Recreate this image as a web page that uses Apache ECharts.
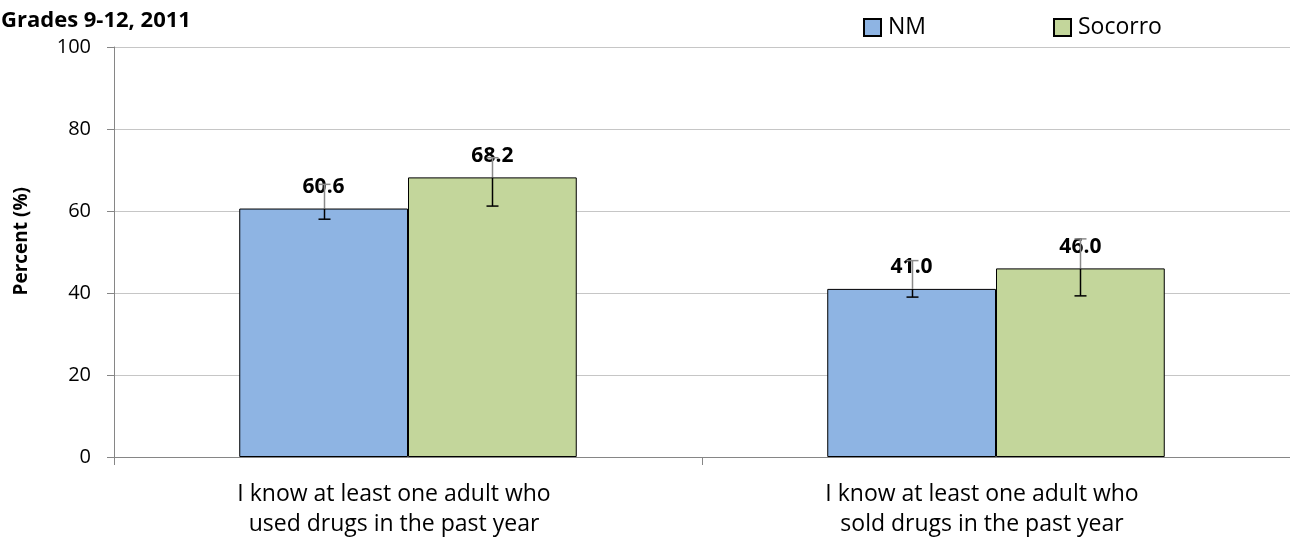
<!DOCTYPE html>
<html><head><meta charset="utf-8">
<script src="https://cdn.jsdelivr.net/npm/echarts@6/dist/echarts.min.js"></script>
<style>html,body{margin:0;padding:0;background:#fff}#c{width:1290px;height:546px}</style>
</head><body><div id="c"></div>
<script>
const categories = ["I know at least one adult who\nused drugs in the past year", "I know at least one adult who\nsold drugs in the past year"];
const seriesNames = ["NM", "Socorro"];
const nmValues = [60.6, 41.0];
const nmLow = [58.0, 39.0];
const nmHigh = [66.5, 47.9];
const socValues = [68.2, 46.0];
const socLow = [61.2, 39.3];
const socHigh = [73.0, 53.2];
const yTicks = [0, 20, 40, 60, 80, 100];
const titleText = "Grades 9-12, 2011";
const yAxisName = "Percent (%)";

const FONT = "Open Sans";
const BAR_W = 0.287;
const chart = echarts.init(document.getElementById('c'), null, {renderer: 'canvas'});

function errSeries(name, vals, lows, highs, sign) {
  return {
    type: 'custom', name: name + ' err', z: 5,
    data: vals.map((v, i) => [i, lows[i], highs[i], v]),
    renderItem: function (params, api) {
      const i = api.value(0);
      const bw = api.size([1, 0])[0] * BAR_W;
      const off = sign * bw / 2;
      const pLow = api.coord([i, api.value(1)]);
      const pHigh = api.coord([i, api.value(2)]);
      const pVal = api.coord([i, api.value(3)]);
      const x = Math.round(pLow[0] + off) + 0.5;
      const cap = 6;
      return {
        type: 'group', children: [
          {type: 'line', shape: {x1: x, y1: pLow[1], x2: x, y2: pVal[1]}, style: {stroke: '#000', lineWidth: 1.5}},
          {type: 'line', shape: {x1: x, y1: pVal[1], x2: x, y2: pHigh[1]}, style: {stroke: '#8a8a8a', lineWidth: 1.5}},
          {type: 'line', shape: {x1: x - cap, y1: pLow[1], x2: x + cap, y2: pLow[1]}, style: {stroke: '#000', lineWidth: 1.5}},
          {type: 'line', shape: {x1: x - cap, y1: pHigh[1], x2: x + cap, y2: pHigh[1]}, style: {stroke: '#8a8a8a', lineWidth: 1.5}}
        ]
      };
    }
  };
}

const labelStyle = {
  show: true, position: 'top', distance: 11,
  fontFamily: FONT, fontWeight: 'bold', fontSize: 21, color: '#000',
  formatter: p => p.value.toFixed(1)
};

chart.setOption({
  animation: false,
  title: {text: titleText, left: -4, top: 5, textStyle: {fontFamily: FONT, fontWeight: 'bold', fontSize: 22, color: '#000'}},
  legend: [
    {data: [seriesNames[0]], left: 858, top: 11, icon: 'rect', itemWidth: 17, itemHeight: 17, itemGap: 4,
     textStyle: {fontFamily: FONT, fontSize: 23, color: '#000', padding: [0, 0, 0, 2]}},
    {data: [seriesNames[1]], left: 1048, top: 11, icon: 'rect', itemWidth: 17, itemHeight: 17, itemGap: 4,
     textStyle: {fontFamily: FONT, fontSize: 23, color: '#000', padding: [0, 0, 0, 2]}}
  ],
  graphic: [{
    type: 'text', left: 12, top: 187, rotation: Math.PI / 2,
    style: {text: yAxisName, fontFamily: FONT, fontWeight: 'bold', fontSize: 19, fill: '#000'}
  }],
  grid: {left: 114, right: 0, top: 47, bottom: 89, containLabel: false},
  xAxis: {
    type: 'category', data: categories,
    axisLine: {lineStyle: {color: '#868686', width: 1}},
    axisTick: {show: true, length: 8, lineStyle: {color: '#868686'}},
    axisLabel: {fontFamily: FONT, fontSize: 23, color: '#000', margin: 22, lineHeight: 30, interval: 0,
      padding: [0, 28, 0, 0]}
  },
  yAxis: {
    type: 'value', min: 0, max: 100, interval: 20,
    axisLine: {show: true, lineStyle: {color: '#868686'}},
    axisTick: {show: true, length: 7, lineStyle: {color: '#868686'}},
    splitLine: {lineStyle: {color: '#c6c6c6', width: 1}},
    axisLabel: {fontFamily: FONT, fontSize: 20, color: '#000', margin: 23,
      formatter: v => yTicks.includes(v) ? String(v) : ''}
  },
  series: [
    {type: 'bar', name: seriesNames[0], data: nmValues, barWidth: (BAR_W * 100) + '%', barGap: '0%',
     itemStyle: {color: '#8EB4E3', borderColor: '#000', borderWidth: 1}, label: labelStyle, z: 2},
    {type: 'bar', name: seriesNames[1], data: socValues, barWidth: (BAR_W * 100) + '%', barGap: '0%',
     itemStyle: {color: '#C3D69B', borderColor: '#000', borderWidth: 1}, label: labelStyle, z: 2},
    errSeries(seriesNames[0], nmValues, nmLow, nmHigh, -1),
    errSeries(seriesNames[1], socValues, socLow, socHigh, 1)
  ]
});
</script></body></html>
